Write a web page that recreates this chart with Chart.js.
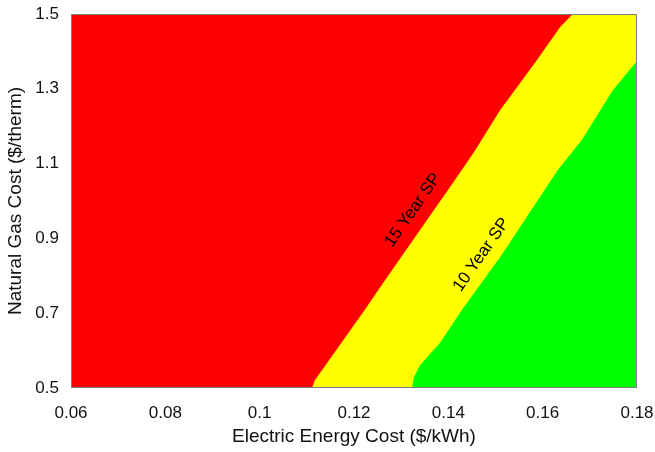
<!DOCTYPE html>
<html>
<head>
<meta charset="utf-8">
<script src="https://cdn.jsdelivr.net/npm/chart.js@4.4.1/dist/chart.umd.min.js"></script>
<style>
  html, body { margin: 0; padding: 0; background: #ffffff; }
  canvas { display: block; }
</style>
</head>
<body>
<canvas id="c" width="655" height="452"></canvas>
<script>
// Axis ticks
const xTicks = [0.06, 0.08, 0.1, 0.12, 0.14, 0.16, 0.18];
const yTicks = [0.5, 0.7, 0.9, 1.1, 1.3, 1.5];

// 15 year simple payback contour (electric cost, gas cost)
const sp15X = [0.06, 0.1111, 0.1117, 0.1223, 0.1266, 0.1414, 0.1457, 0.1510, 0.1588, 0.1637, 0.1664];
const sp15Y = [0.5, 0.5, 0.521, 0.709, 0.789, 1.056, 1.136, 1.243, 1.377, 1.465, 1.5];

// 10 year simple payback contour
const sp10X = [0.1323, 0.1327, 0.1340, 0.1382, 0.1429, 0.1510, 0.1632, 0.1683, 0.1749, 0.18];
const sp10Y = [0.5, 0.529, 0.561, 0.620, 0.709, 0.850, 1.083, 1.163, 1.297, 1.374];

// Contour labels
const labelText = ['15 Year SP', '10 Year SP'];
const labelX = [0.1325, 0.1470];
const labelY = [0.976, 0.856];

const FONT = "'Liberation Sans', Arial, Helvetica, sans-serif";

const toPoints = (xs, ys) => xs.map((x, i) => ({ x: x, y: ys[i] }));

// Middle band (between the two contours) is painted as the plot background
const bandPlugin = {
  id: 'band',
  beforeDatasetsDraw(chart) {
    const a = chart.chartArea, ctx = chart.ctx;
    ctx.save();
    ctx.fillStyle = '#ffff00';
    ctx.fillRect(a.left, a.top, a.right - a.left, a.bottom - a.top);
    ctx.restore();
  }
};

const framePlugin = {
  id: 'frame',
  afterDatasetsDraw(chart) {
    const a = chart.chartArea, ctx = chart.ctx;
    const xs = chart.scales.x, ys = chart.scales.y;
    ctx.save();
    // contour labels
    ctx.fillStyle = '#000000';
    ctx.font = '17px ' + FONT;
    ctx.textAlign = 'center';
    ctx.textBaseline = 'middle';
    labelText.forEach((t, i) => {
      ctx.save();
      ctx.translate(xs.getPixelForValue(labelX[i]), ys.getPixelForValue(labelY[i]));
      ctx.rotate(-55 * Math.PI / 180);
      ctx.fillText(t, 0, 0);
      ctx.restore();
    });
    // axes box
    ctx.strokeStyle = '#808080';
    ctx.lineWidth = 1;
    ctx.strokeRect(Math.round(a.left) + 0.5, Math.round(a.top) + 0.5,
                   Math.round(a.right - a.left) - 1, Math.round(a.bottom - a.top) - 1);
    ctx.restore();
  }
};

new Chart(document.getElementById('c'), {
  type: 'scatter',
  data: {
    datasets: [
      {
        label: '15 Year SP',
        data: toPoints(sp15X, sp15Y),
        showLine: true,
        fill: 'end',
        backgroundColor: '#ff0000',
        borderColor: '#ff0000',
        borderWidth: 0,
        pointRadius: 0,
        tension: 0
      },
      {
        label: '10 Year SP',
        data: toPoints(sp10X, sp10Y),
        showLine: true,
        fill: 'start',
        backgroundColor: '#00ff00',
        borderColor: '#00ff00',
        borderWidth: 0,
        pointRadius: 0,
        tension: 0
      }
    ]
  },
  options: {
    responsive: false,
    animation: false,
    events: [],
    layout: { padding: { top: 14, right: 18, left: 0, bottom: 0 } },
    plugins: {
      legend: { display: false },
      tooltip: { enabled: false },
      filler: { propagate: false }
    },
    scales: {
      x: {
        type: 'linear',
        min: 0.06,
        max: 0.18,
        afterBuildTicks: s => { s.ticks = xTicks.map(v => ({ value: v })); },
        afterFit: s => { s.height = 64; s.paddingLeft = 0; s.paddingRight = 0; },
        grid: { display: false },
        border: { display: false },
        ticks: {
          color: '#111111',
          font: { family: FONT, size: 17 },
          padding: 7,
          maxRotation: 0,
          callback: v => String(Number(v.toFixed(2)))
        },
        title: {
          display: true,
          text: 'Electric Energy Cost ($/kWh)',
          color: '#111111',
          font: { family: FONT, size: 19 },
          padding: { top: 2, bottom: 4 }
        }
      },
      y: {
        type: 'linear',
        min: 0.5,
        max: 1.5,
        afterBuildTicks: s => { s.ticks = yTicks.map(v => ({ value: v })); },
        afterFit: s => { s.width = 71; s.paddingTop = 0; s.paddingBottom = 0; },
        grid: { display: false },
        border: { display: false },
        ticks: {
          color: '#111111',
          font: { family: FONT, size: 17 },
          padding: 4,
          callback: v => String(Number(v.toFixed(1)))
        },
        title: {
          display: true,
          text: 'Natural Gas Cost ($/therm)',
          color: '#111111',
          font: { family: FONT, size: 19 },
          padding: { top: 4, bottom: 0 }
        }
      }
    }
  },
  plugins: [bandPlugin, framePlugin]
});
</script>
</body>
</html>
